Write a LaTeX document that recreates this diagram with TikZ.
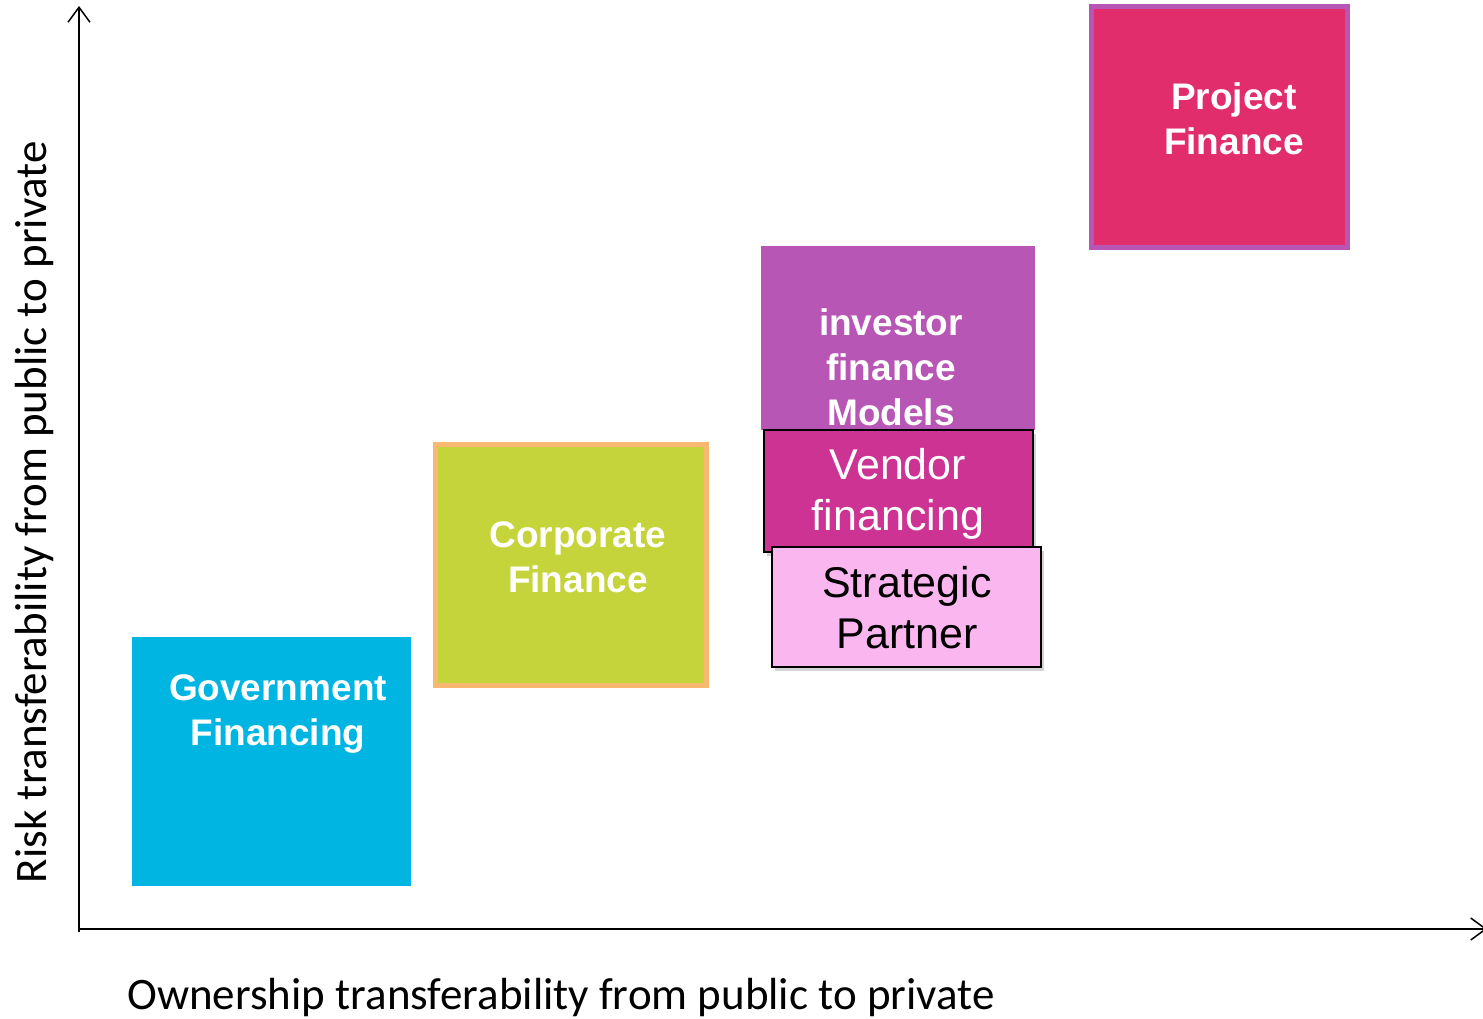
\documentclass[tikz,border=0pt]{standalone}
\usepackage{fontspec}
\setmainfont{Liberation Sans}
\newfontfamily\axisfont{Carlito}
\usepackage{tikz}
\usetikzlibrary{arrows.meta,shadows}
\definecolor{govblue}{HTML}{00B5E2}
\definecolor{corpgreen}{HTML}{C5D43A}
\definecolor{corpedge}{HTML}{F9B872}
\definecolor{invpurple}{HTML}{B756B5}
\definecolor{vendmagenta}{HTML}{CD3393}
\definecolor{stratpink}{HTML}{FAB6EE}
\definecolor{projred}{HTML}{E12D6B}

\begin{document}
\begin{tikzpicture}[x=1pt,y=-1pt,
  fbox/.style n args={4}{rectangle,fill=#1,draw=#2,line width=#3,minimum width=#4,inner sep=0pt},
  shade/.style={drop shadow={shadow xshift=3pt,shadow yshift=-4pt,opacity=0.35}},
  boldtxt/.style={text=white,align=center,font=\bfseries\fontsize{37}{45}\selectfont},
  plaintxt/.style={text=#1,align=center,font=\fontsize{43}{51}\selectfont},
  axislabel/.style={inner sep=0pt,font=\axisfont\fontsize{45}{52}\selectfont},
  axis/.style={line width=1.5pt,-{Straight Barb[length=15pt,width=22pt]}}]
\useasboundingbox (0,0) rectangle (1483,1019);
% axes
\coordinate (ybot) at (79,932);
\coordinate (ytop) at (79,6);
\coordinate (xbeg) at (79,929);
\coordinate (xend) at (1487,929);
\draw[axis] (ybot) -- (ytop);
\draw[axis] (xbeg) -- (xend);
\node[axislabel] (xlab) at (561,997) {Ownership transferability from public to private};
\node[axislabel,rotate=90] (ylab) at (35,512) {Risk transferability from public to private};
% boxes
\node[fbox={govblue}{none}{0pt}{279pt},minimum height=249pt] (gov) at (271.5,761.5) {};
\node[boldtxt] (govtxt) at (278,713.5) {Government\\Financing};
\node[fbox={corpgreen}{corpedge}{5pt}{271pt},minimum height=241pt] (corp) at (571,565) {};
\node[boldtxt] (corptxt) at (578,557) {Corporate\\Finance};
\node[fbox={invpurple}{none}{0pt}{274pt},minimum height=184pt] (inv) at (898,338) {};
\node[boldtxt] (invtxt) at (891,367.5) {investor\\finance\\Models};
\node[fbox={vendmagenta}{black}{1.5pt}{269pt},minimum height=122pt,shade] (vend) at (898.5,491) {};
\node[plaintxt=white] (vendtxt) at (898,494) {Vendor\\financing};
\node[fbox={stratpink}{black}{1.5pt}{269pt},minimum height=120pt,shade] (strat) at (906.5,607) {};
\node[plaintxt=black] (strattxt) at (907,607.5) {Strategic\\Partner};
\node[fbox={projred}{invpurple}{5pt}{256pt},minimum height=241pt] (proj) at (1219.5,127) {};
\node[boldtxt] (projtxt) at (1234,118.5) {Project\\Finance};
\end{tikzpicture}
\end{document}
